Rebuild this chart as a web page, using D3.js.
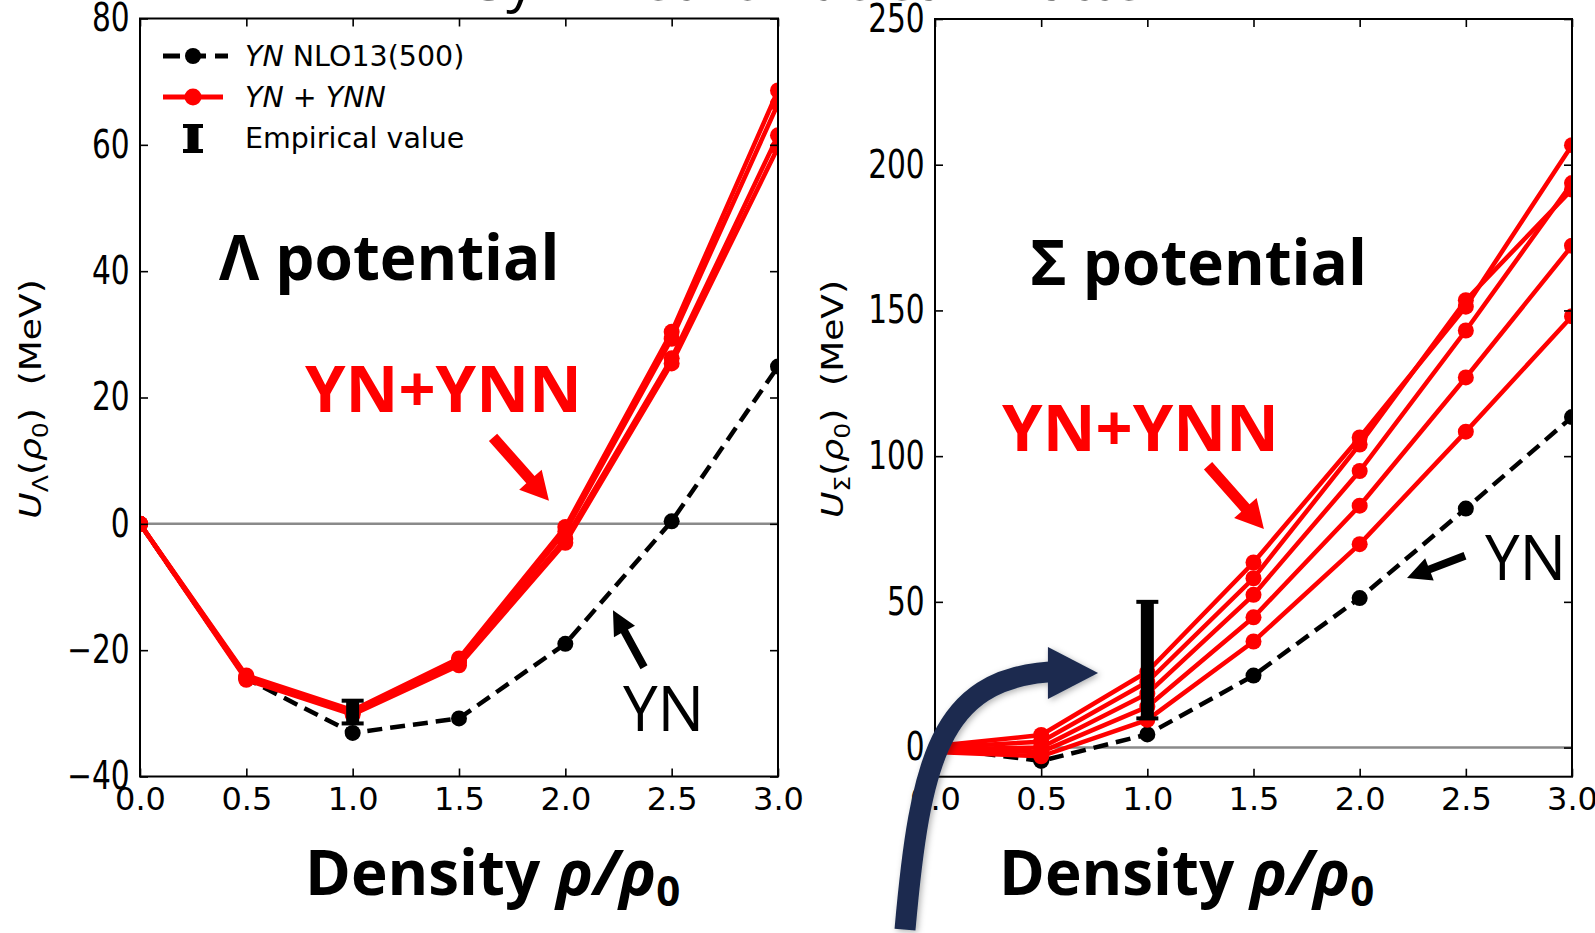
<!DOCTYPE html>
<html>
<head>
<meta charset="utf-8">
<script src="https://cdn.jsdelivr.net/npm/d3@7"></script>
<style>
  html, body { margin: 0; padding: 0; background: #fff; }
  svg { display: block; }
  text { white-space: pre; }
</style>
</head>
<body>
<svg id="chart" width="1595" height="933"></svg>
<script>
// -----------------------------
// Datos
// -----------------------------
const densities = [0, 0.5, 1.0, 1.5, 2.0, 2.5, 3.0];
const xTicks = [0, 0.5, 1.0, 1.5, 2.0, 2.5, 3.0];

// potencial Lambda (MeV)
const lambdaYN = [0, -24.5, -33.1, -30.8, -19.0, 0.4, 24.9];
const lambdaYNN1 = [0, -24.0, -29.5, -21.3, -0.5, 30.4, 68.6];
const lambdaYNN2 = [0, -24.2, -29.7, -21.6, -1.2, 29.3, 66.5];
const lambdaYNN3 = [0, -24.5, -29.9, -22.0, -2.4, 26.2, 61.5];
const lambdaYNN4 = [0, -24.7, -30.2, -22.4, -3.0, 25.4, 59.6];
const lambdaTicks = [-40, -20, 0, 20, 40, 60, 80];
const lambdaEmpirical = [-31.6, -28.0];

// potencial Sigma (MeV)
const sigmaYN = [0, -4.6, 4.5, 24.7, 51.3, 82.0, 113.4];
const sigmaYNN1 = [0.5, 4.3, 26.0, 63.5, 106.4, 151.3, 206.7];
const sigmaYNN2 = [0, 2.0, 22.5, 58.1, 104.0, 153.5, 191.5];
const sigmaYNN3 = [-0.5, 0, 18.5, 52.4, 94.9, 143.1, 193.7];
const sigmaYNN4 = [-1.0, -1.5, 14.0, 44.7, 83.0, 127.0, 172.2];
const sigmaYNN5 = [-1.5, -3.0, 9.5, 36.4, 69.8, 108.4, 148.0];
const sigmaTicks = [0, 50, 100, 150, 200, 250];
const sigmaEmpirical = [10, 50];

const RED = "#ff0000";
const NAVY = "#1b2c50";

const svg = d3.select("#chart");
const defs = svg.append("defs");
defs.append("filter").attr("id", "sombra")
  .attr("x", "-20%").attr("y", "-20%").attr("width", "140%").attr("height", "140%")
  .append("feDropShadow")
  .attr("dx", 2).attr("dy", 2).attr("stdDeviation", 3)
  .attr("flood-color", "#000").attr("flood-opacity", 0.3);

// titulo cortado arriba
svg.append("text")
  .attr("x", 475).attr("y", 0)
  .attr("font-family", "Open Sans").attr("font-size", 57)
  .text("Symmetric nuclear matter");

// -----------------------------
// Un panel
// -----------------------------
function dibujarPanel(p) {
  const x = d3.scaleLinear().domain([0, 3]).range([p.left, p.right]);
  const y = d3.scaleLinear().domain(p.yDomain).range([p.bottom, p.top]);

  const g = svg.append("g");

  defs.append("clipPath").attr("id", "clip-" + p.id)
    .append("rect")
    .attr("x", p.left).attr("y", p.top)
    .attr("width", p.right - p.left).attr("height", p.bottom - p.top);

  const plot = g.append("g").attr("clip-path", `url(#clip-${p.id})`);

  // linea del cero
  plot.append("line")
    .attr("x1", p.left).attr("x2", p.right)
    .attr("y1", y(0)).attr("y2", y(0))
    .attr("stroke", "#8a8a8a").attr("stroke-width", 2.5);

  const linea = d3.line()
    .x((d, i) => x(densities[i]))
    .y((d) => y(d));

  // YN (discontinua)
  plot.append("path")
    .datum(p.yn)
    .attr("d", linea)
    .attr("fill", "none")
    .attr("stroke", "#000")
    .attr("stroke-width", 4.5)
    .attr("stroke-dasharray", "15,8");
  plot.selectAll(".yn-dot")
    .data(p.yn)
    .enter()
    .append("circle")
    .attr("cx", (d, i) => x(densities[i]))
    .attr("cy", (d) => y(d))
    .attr("r", 8)
    .attr("fill", "#000");

  // YN + YNN
  p.ynn.forEach((serie) => {
    plot.append("path")
      .datum(serie)
      .attr("d", linea)
      .attr("fill", "none")
      .attr("stroke", RED)
      .attr("stroke-width", 4.5);
    plot.selectAll(null)
      .data(serie)
      .enter()
      .append("circle")
      .attr("cx", (d, i) => x(densities[i]))
      .attr("cy", (d) => y(d))
      .attr("r", 8)
      .attr("fill", RED);
  });

  // valor empirico
  const xe = x(1.0);
  g.append("line")
    .attr("x1", xe).attr("x2", xe)
    .attr("y1", y(p.empirical[0])).attr("y2", y(p.empirical[1]))
    .attr("stroke", "#000").attr("stroke-width", 13);
  p.empirical.forEach((v) => {
    g.append("line")
      .attr("x1", xe - 11).attr("x2", xe + 11)
      .attr("y1", y(v)).attr("y2", y(v))
      .attr("stroke", "#000").attr("stroke-width", 4);
  });

  // ejes
  const estiloTicks = (sel) => {
    sel.select(".domain").remove();
    sel.selectAll(".tick line").attr("stroke", "#000").attr("stroke-width", 1.6);
  };

  g.append("g")
    .attr("transform", `translate(0,${p.bottom})`)
    .call(d3.axisBottom(x).tickValues(xTicks).tickSize(-8).tickPadding(11)
      .tickFormat(d3.format(".1f")))
    .call(estiloTicks)
    .call((s) => s.selectAll("text")
      .attr("font-family", "DejaVu Sans").attr("font-size", 32).attr("fill", "#000"));

  g.append("g")
    .attr("transform", `translate(0,${p.top})`)
    .call(d3.axisTop(x).tickValues(xTicks).tickSize(-8).tickFormat(""))
    .call(estiloTicks);

  g.append("g")
    .attr("transform", `translate(${p.left},0)`)
    .call(d3.axisLeft(y).tickValues(p.yTicks).tickSize(-8).tickPadding(10)
      .tickFormat(d3.format("d")))
    .call(estiloTicks)
    .call((s) => s.selectAll("text")
      .attr("font-family", "'DejaVu Sans Condensed', 'DejaVu Sans'")
      .attr("font-size", 32).attr("fill", "#000")
      .attr("transform", "scale(1.03,1.2)"));

  g.append("g")
    .attr("transform", `translate(${p.right},0)`)
    .call(d3.axisRight(y).tickValues(p.yTicks).tickSize(-8).tickFormat(""))
    .call(estiloTicks);

  g.append("rect")
    .attr("x", p.left).attr("y", p.top)
    .attr("width", p.right - p.left).attr("height", p.bottom - p.top)
    .attr("fill", "none").attr("stroke", "#000").attr("stroke-width", 2);

  // etiqueta eje y
  const ty = svg.append("text")
    .attr("transform", `translate(${p.yLabelX},399) rotate(-90) scale(1.2,1)`)
    .attr("text-anchor", "middle")
    .attr("font-family", "DejaVu Sans")
    .attr("font-size", 30);
  ty.append("tspan").attr("font-style", "italic").text("U");
  ty.append("tspan").attr("font-size", 21).attr("dy", 7).text(p.sub);
  ty.append("tspan").attr("dy", -7).text("(");
  ty.append("tspan").attr("font-style", "italic").text("ρ");
  ty.append("tspan").attr("font-size", 21).attr("dy", 7).text("0");
  ty.append("tspan").attr("dy", -7).text(")  (MeV)");

  // etiqueta eje x
  const tx = svg.append("text")
    .attr("x", p.xLabelX).attr("y", 895)
    .attr("font-family", "'Open Sans'")
    .attr("font-weight", 700)
    .attr("font-size", 62);
  tx.append("tspan").text("Density ");
  tx.append("tspan").attr("font-style", "italic").text("ρ/ρ");
  tx.append("tspan").attr("font-size", 42).attr("dy", 11).text("0");

  return { x, y };
}

function flecha(g, x1, y1, x2, y2, ancho, anchoPunta, largoPunta, color) {
  const dx = x2 - x1, dy = y2 - y1, len = Math.hypot(dx, dy);
  const ux = dx / len, uy = dy / len, nx = -uy, ny = ux;
  const bx = x2 - ux * largoPunta, by = y2 - uy * largoPunta;
  const pts = [
    [x1 + nx * ancho / 2, y1 + ny * ancho / 2],
    [bx + nx * ancho / 2, by + ny * ancho / 2],
    [bx + nx * anchoPunta / 2, by + ny * anchoPunta / 2],
    [x2, y2],
    [bx - nx * anchoPunta / 2, by - ny * anchoPunta / 2],
    [bx - nx * ancho / 2, by - ny * ancho / 2],
    [x1 - nx * ancho / 2, y1 - ny * ancho / 2]
  ];
  g.append("polygon").attr("points", pts.map((q) => q.join(",")).join(" ")).attr("fill", color);
}

function texto(x, y, str, size, color, weight) {
  svg.append("text")
    .attr("x", x).attr("y", y)
    .attr("font-family", "'Open Sans'")
    .attr("font-weight", weight)
    .attr("font-size", size)
    .attr("fill", color)
    .text(str);
}

// -----------------------------
// Panel izquierdo: Lambda
// -----------------------------
const L = dibujarPanel({
  id: "lambda",
  left: 140, right: 778, top: 18.5, bottom: 776.5,
  yDomain: [-40, 80],
  yTicks: lambdaTicks,
  yn: lambdaYN,
  ynn: [lambdaYNN1, lambdaYNN2, lambdaYNN3, lambdaYNN4],
  empirical: lambdaEmpirical,
  sub: "Λ",
  yLabelX: 41,
  xLabelX: 305
});

// leyenda
const leg = svg.append("g");
leg.append("line").attr("x1", 163).attr("x2", 228).attr("y1", 56).attr("y2", 56)
  .attr("stroke", "#000").attr("stroke-width", 5).attr("stroke-dasharray", "17,9");
leg.append("circle").attr("cx", 193).attr("cy", 56).attr("r", 8).attr("fill", "#000");
leg.append("line").attr("x1", 163).attr("x2", 223).attr("y1", 97).attr("y2", 97)
  .attr("stroke", RED).attr("stroke-width", 5);
leg.append("circle").attr("cx", 193).attr("cy", 97).attr("r", 8.5).attr("fill", RED);
leg.append("line").attr("x1", 193).attr("x2", 193).attr("y1", 126).attr("y2", 151)
  .attr("stroke", "#000").attr("stroke-width", 11);
[126, 151].forEach((v) => {
  leg.append("line").attr("x1", 183).attr("x2", 203).attr("y1", v).attr("y2", v)
    .attr("stroke", "#000").attr("stroke-width", 4);
});
const legTxt = (y) => leg.append("text").attr("x", 245).attr("y", y)
  .attr("font-family", "DejaVu Sans").attr("font-size", 28.5);
const l1 = legTxt(66);
l1.append("tspan").attr("font-style", "italic").text("YN");
l1.append("tspan").text(" NLO13(500)");
const l2 = legTxt(107);
l2.append("tspan").attr("font-style", "italic").text("YN");
l2.append("tspan").text(" + ");
l2.append("tspan").attr("font-style", "italic").text("YNN");
legTxt(148).text("Empirical value");

texto(L.x(0.371), L.y(38.6), "Λ potential", 62, "#000", 700);
texto(L.x(0.776), L.y(17.7), "YN+YNN", 65, RED, 700);
texto(L.x(2.271), L.y(-32.8), "YN", 62, "#000", 400);
flecha(svg, L.x(1.66), L.y(13.7), L.x(1.923), L.y(3.66), 11, 30, 28, RED);
flecha(svg, L.x(2.37), L.y(-22.7), L.x(2.224), L.y(-13.7), 8, 24, 24, "#000");

// -----------------------------
// Panel derecho: Sigma
// -----------------------------
const S = dibujarPanel({
  id: "sigma",
  left: 935, right: 1572, top: 19, bottom: 776.7,
  yDomain: [-10, 250],
  yTicks: sigmaTicks,
  yn: sigmaYN,
  ynn: [sigmaYNN1, sigmaYNN2, sigmaYNN3, sigmaYNN4, sigmaYNN5],
  empirical: sigmaEmpirical,
  sub: "Σ",
  yLabelX: 843,
  xLabelX: 999
});

texto(S.x(0.447), S.y(158.7), "Σ potential", 62, "#000", 700);
texto(S.x(0.316), S.y(101.8), "YN+YNN", 65, RED, 700);
texto(S.x(2.59), S.y(57.5), "YN", 62, "#000", 400);
flecha(svg, S.x(1.286), S.y(96.7), S.x(1.549), S.y(75.0), 11, 30, 28, RED);
flecha(svg, S.x(2.496), S.y(65.8), S.x(2.223), S.y(58.2), 8, 24, 24, "#000");

// flecha azul curva
const nav = svg.append("g").attr("filter", "url(#sombra)");
const cp = d3.path();
cp.moveTo(S.x(-0.1413), S.y(-62.5));
cp.bezierCurveTo(S.x(-0.0706), S.y(-4.2), S.x(0.0235), S.y(23.2), S.x(0.54), S.y(25.97));
nav.append("path").attr("d", cp.toString())
  .attr("fill", "none").attr("stroke", NAVY).attr("stroke-width", 21);
nav.append("polygon")
  .attr("points", [
    [S.x(0.532), S.y(34.5)],
    [S.x(0.768), S.y(25.6)],
    [S.x(0.532), S.y(16.7)]
  ].map((q) => q.join(",")).join(" "))
  .attr("fill", NAVY);
</script>
</body>
</html>
